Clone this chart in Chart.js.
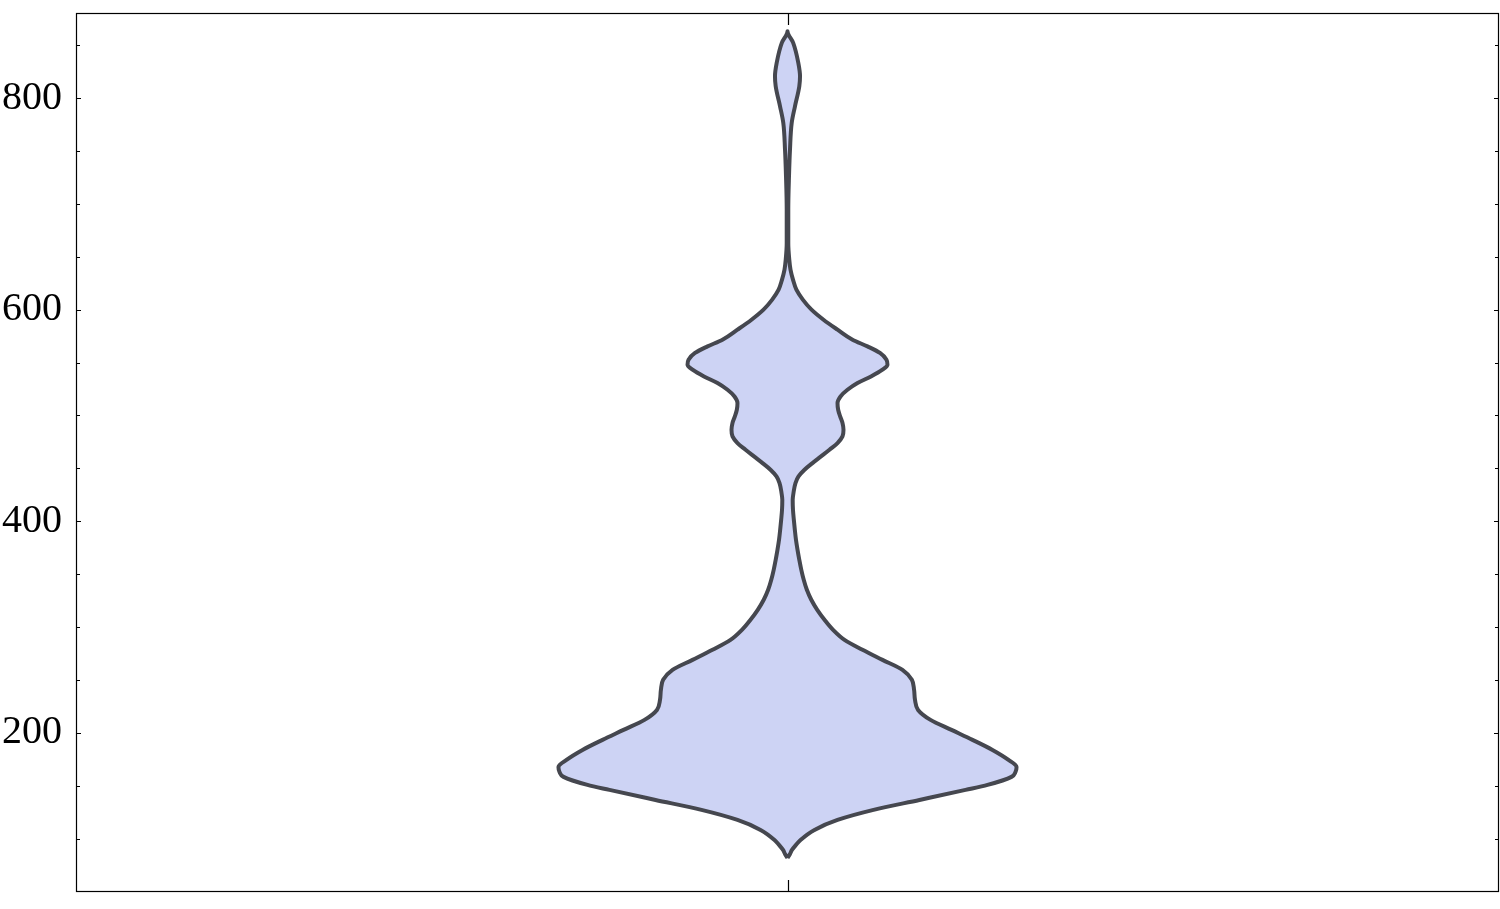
<!DOCTYPE html>
<html>
<head>
<meta charset="utf-8">
<script src="https://cdn.jsdelivr.net/npm/chart.js@4.4.1/dist/chart.umd.min.js"></script>
<style>
  html, body { margin: 0; padding: 0; background: #ffffff; }
  #wrap { width: 1500px; height: 909px; }
</style>
</head>
<body>
<div id="wrap"><canvas id="c" width="1500" height="909"></canvas></div>
<script>
// Violin outline: values along the y axis and the half-width of the density at each value
const violinValues = [
  81.8, 85.6, 89.4, 94.1, 98.8, 108.3, 117.7, 127.2, 136.6, 146.1,
  150.8, 158.4, 163.1, 167.8, 174.5, 183.9, 193.4, 202.8, 212.3, 221.7,
  231.2, 240.7, 250.1, 259.6, 269.0, 278.5, 287.9, 297.4, 306.9, 316.3,
  325.8, 335.2, 344.7, 354.1, 363.6, 373.0, 382.5, 392.0, 401.4, 410.9,
  420.3, 426.7, 436.1, 442.4, 448.7, 455.0, 461.3, 467.6, 473.9, 480.2,
  486.5, 492.9, 499.1, 505.4, 511.8, 518.0, 524.3, 530.7, 536.9, 543.3,
  548.0, 552.7, 559.1, 565.3, 571.6, 581.1, 590.5, 600.0, 609.5, 618.9,
  628.4, 637.8, 647.3, 663.1, 694.6, 726.1, 751.3, 776.5, 792.2, 811.2,
  820.6, 833.3, 852.2, 863.2
];
const violinHalfWidth = [
  0.0000, 0.0035, 0.0063, 0.0119, 0.0183, 0.0379, 0.0703, 0.1209, 0.1855, 0.2502,
  0.2811, 0.3148, 0.3205, 0.3219, 0.3106, 0.2881, 0.2600, 0.2305, 0.2010, 0.1835,
  0.1792, 0.1779, 0.1748, 0.1616, 0.1335, 0.1054, 0.0801, 0.0640, 0.0520, 0.0418,
  0.0334, 0.0272, 0.0228, 0.0194, 0.0166, 0.0141, 0.0119, 0.0103, 0.0089, 0.0077,
  0.0073, 0.0084, 0.0112, 0.0155, 0.0239, 0.0351, 0.0471, 0.0590, 0.0703, 0.0773,
  0.0787, 0.0773, 0.0740, 0.0712, 0.0703, 0.0745, 0.0843, 0.0984, 0.1174, 0.1335,
  0.1405, 0.1391, 0.1300, 0.1124, 0.0914, 0.0703, 0.0506, 0.0337, 0.0215, 0.0125,
  0.0077, 0.0042, 0.0025, 0.0011, 0.0011, 0.0021, 0.0035, 0.0059, 0.0105, 0.0166,
  0.0176, 0.0152, 0.0080, 0.0000
];
const yTickLabels = [200, 400, 600, 800];
const yMin = 49.6, yMax = 880.4;
const violinCenter = 0;

// closed outline: right side upward, then left side downward
const outline = [];
for (let i = 0; i < violinValues.length; i++) {
  outline.push({ x: violinCenter + violinHalfWidth[i], y: violinValues[i] });
}
for (let i = violinValues.length - 2; i >= 0; i--) {
  outline.push({ x: violinCenter - violinHalfWidth[i], y: violinValues[i] });
}

const frameTicks = {
  id: 'frameTicks',
  afterDraw(chart) {
    const { ctx, chartArea: a, scales } = chart;
    const ys = scales.y, xs = scales.x;
    ctx.save();
    ctx.strokeStyle = '#000';
    ctx.lineWidth = 1.2;
    ctx.strokeRect(a.left + 0.5, a.top + 0.5, a.right - a.left - 1, a.bottom - a.top - 1);
    ctx.beginPath();
    ys.ticks.forEach(t => {
      const py = Math.round(ys.getPixelForValue(t.value)) + 0.5;
      const len = (t.value % 200 === 0) ? 5 : 4;
      ctx.moveTo(a.left, py); ctx.lineTo(a.left + len, py);
      ctx.moveTo(a.right, py); ctx.lineTo(a.right - len, py);
    });
    const cx = Math.round(xs.getPixelForValue(violinCenter)) + 0.5;
    ctx.moveTo(cx, a.top); ctx.lineTo(cx, a.top + 12);
    ctx.moveTo(cx, a.bottom); ctx.lineTo(cx, a.bottom - 12);
    ctx.stroke();
    ctx.restore();
  }
};

new Chart(document.getElementById('c'), {
  type: 'scatter',
  data: {
    datasets: [{
      data: outline,
      showLine: true,
      fill: 'shape',
      backgroundColor: '#cdd3f4',
      borderColor: '#45474f',
      borderWidth: 4,
      borderJoinStyle: 'round',
      cubicInterpolationMode: 'monotone',
      pointRadius: 0,
      pointHoverRadius: 0
    }]
  },
  options: {
    indexAxis: 'y',
    responsive: false,
    animation: false,
    events: [],
    layout: { padding: { top: 13, right: 1, bottom: 17, left: 0 } },
    plugins: { legend: { display: false }, tooltip: { enabled: false } },
    scales: {
      x: {
        type: 'linear', position: 'bottom', min: -1, max: 1, display: false
      },
      y: {
        type: 'linear', position: 'left', min: yMin, max: yMax,
        afterFit(scale) {
          scale.width = 76;
          scale.paddingTop = 0;
          scale.paddingBottom = 0;
        },
        afterBuildTicks(scale) {
          const t = [];
          for (let v = 100; v <= 850; v += 50) t.push({ value: v });
          scale.ticks = t;
        },
        border: { display: false },
        grid: { display: false, drawTicks: false },
        ticks: {
          padding: 14,
          color: '#000',
          font: { family: '"Liberation Serif", "Times New Roman", serif', size: 40 },
          callback: (v) => yTickLabels.includes(v) ? String(v) : ''
        }
      }
    }
  },
  plugins: [frameTicks]
});
</script>
</body>
</html>
